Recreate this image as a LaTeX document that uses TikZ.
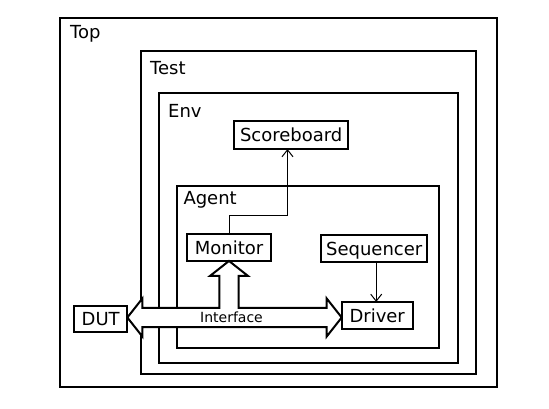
\documentclass[tikz,border=0pt]{standalone}
\usepackage{fontspec}
\setmainfont{DejaVu Sans}
\usetikzlibrary{calc,arrows.meta}

\tikzset{
  frame/.style={draw, line width=2pt, inner sep=0pt, outer sep=0pt},
  blk/.style={draw, line width=2pt, inner sep=0pt, outer sep=0pt,
    text height=13.5pt, text depth=0pt, font=\fontsize{18}{22}\selectfont},
  lbl/.style={anchor=base west, inner sep=0pt, font=\fontsize{18}{22}\selectfont},
  link/.style={line width=1pt, -{Straight Barb[length=7pt,width=11pt]}},
  bus/.style={draw, line width=2pt, fill=white},
}

\begin{document}
\begin{tikzpicture}[x=1pt, y=-1pt]
    \useasboundingbox (0,0) rectangle (549,409);

    % frames
    \node[frame, minimum width=436.4pt, minimum height=368.2pt] (top) at (278.5,202.4) {};
    \node[frame, minimum width=335pt, minimum height=323.3pt] (test) at (308.2,212.3) {};
    \node[frame, minimum width=298.7pt, minimum height=269.4pt] (env) at (308.3,228) {};
    \node[frame, minimum width=262.3pt, minimum height=161.8pt] (agent) at (307.8,266.6) {};

    \node[lbl] (top_l) at (70,38.3) {Top};
    \node[lbl] (test_l) at (150,75) {Test};
    \node[lbl] (env_l) at (168,118) {Env};
    \node[lbl] (agent_l) at (183.3,204.3) {Agent};

    % define nodes
    \node[blk, minimum width=114pt, minimum height=28pt] (sb) at (291.2,135) {Scoreboard};
    \node[blk, minimum width=83.4pt, minimum height=26.7pt] (mon) at (229,247.6) {Monitor};
    \node[blk, minimum width=105.5pt, minimum height=27.3pt] (seq) at (374.2,248.6) {Sequencer};
    \node[blk, minimum width=71pt, minimum height=27.5pt] (drv) at (377.2,315.7) {Driver};
    \node[blk, minimum width=53.3pt, minimum height=26.3pt] (dut) at (100.7,319.2) {DUT};

    % interface
    \coordinate (jn) at (229,317.5);
    \draw[bus] (dut.east |- jn) -- ++(15,-19) -- ++(0,9.3)
      -- ($(jn)+(-9.7,-9.7)$) -- ($(mon.south)+(-9.7,15)$) -- ++(-9.3,0)
      -- (mon.south) -- ++(19,15) -- ++(-9.3,0)
      -- ($(jn)+(9.7,-9.7)$) -- ($(drv.west |- jn)+(-15,-9.7)$) -- ++(0,-9.3)
      -- (drv.west |- jn) -- ++(-15,19) -- ++(0,-9.3)
      -- ($(dut.east |- jn)+(15,9.7)$) -- ++(0,9.3) -- cycle;
    \node[anchor=base, inner sep=0pt, font=\fontsize{14}{16}\selectfont] (ifc) at (231.5,322.5) {Interface};

    % connect the nodes
    \draw[link] (mon.north) -- ++(0,-19) -| ([xshift=-3.7pt]sb.south);
    \draw[link] ([xshift=2pt]seq.south) -- ([xshift=2pt]seq.south |- drv.north);

\end{tikzpicture}
\end{document}
